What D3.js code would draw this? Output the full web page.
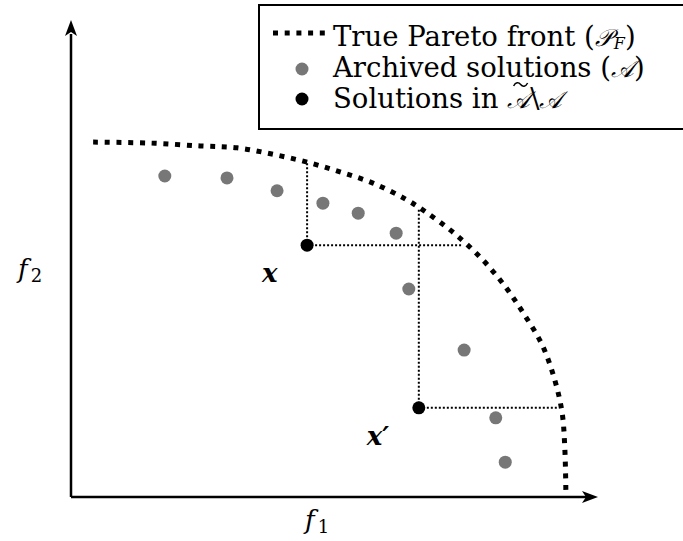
<!DOCTYPE html>
<html>
<head>
<meta charset="utf-8">
<script src="https://cdn.jsdelivr.net/npm/d3@7"></script>
<style>
  body { margin: 0; background: #fff; }
  text { font-family: 'DejaVu Serif', serif; fill: #000; }
</style>
</head>
<body>
<svg id="chart" width="683" height="541"></svg>
<script>
// true Pareto front (f1, f2)
const frontF1 = [0.42, 1.50, 2.45, 3.15, 3.81, 4.48, 5.12, 5.73, 6.34, 6.74, 7.27, 7.78, 8.22, 8.58, 8.94, 9.18, 9.32, 9.37, 9.39];
const frontF2 = [7.44, 7.42, 7.36, 7.32, 7.19, 7.02, 6.81, 6.58, 6.25, 5.97, 5.53, 5.01, 4.44, 3.86, 3.19, 2.45, 1.76, 1.03, 0.15];

// archived solutions
const archiveF1 = [1.78, 2.96, 3.91, 4.78, 5.45, 6.17, 6.41, 7.46, 8.06, 8.24];
const archiveF2 = [6.73, 6.69, 6.42, 6.16, 5.95, 5.53, 4.36, 3.08, 1.66, 0.73];

// new solutions and where their dotted guides hit the front
const solutionF1 = [4.48, 6.60];
const solutionF2 = [5.28, 1.87];
const hitF1 = [7.42, 9.24];
const hitF2 = [7.02, 6.02];
const solutionLabels = ['x', 'x′'];

const legendLabels = ['True Pareto front', 'Archived solutions', 'Solutions in'];

const svg = d3.select('#chart');
const g = svg.append('g');

const x = d3.scaleLinear().domain([0, 10]).range([71, 598]);
const y = d3.scaleLinear().domain([0, 10]).range([497, 20]);

// axes with arrow heads
g.append('path')
	.attr('d', `M${x(0)},${y(0)}H${x(10) - 12}M${x(0)},${y(0)}V${y(10) + 14}`)
	.attr('stroke', '#000')
	.attr('stroke-width', 2.5)
	.attr('fill', 'none');
g.append('path')
	.attr('d', `M${x(10)},${y(0)}l-16,-6l4,6l-4,6z`)
	.attr('fill', '#000');
g.append('path')
	.attr('d', `M${x(0)},${y(10)}l-6,16l6,-4l6,4z`)
	.attr('fill', '#000');

// axis labels
const f2Label = g.append('text').attr('x', 18).attr('y', 278).attr('font-size', 26);
f2Label.append('tspan').attr('font-style', 'italic').text('f');
f2Label.append('tspan').attr('font-size', 18).attr('dx', 3).attr('dy', 4).text('2');

const f1Label = g.append('text').attr('x', 305).attr('y', 529).attr('font-size', 26);
f1Label.append('tspan').attr('font-style', 'italic').text('f');
f1Label.append('tspan').attr('font-size', 18).attr('dx', 3).attr('dy', 4).text('1');

// dominance guides
const guides = g.append('g')
	.attr('stroke', '#000')
	.attr('stroke-width', 2)
	.attr('stroke-dasharray', '2 2')
	.attr('fill', 'none');
solutionF1.forEach((s, i) => {
	guides.append('path')
		.attr('d', `M${x(s)},${y(solutionF2[i])}V${y(hitF2[i])}`);
	guides.append('path')
		.attr('d', `M${x(s)},${y(solutionF2[i])}H${x(hitF1[i])}`);
});

// Pareto front
const front = frontF1.map((f, i) => [f, frontF2[i]]);
const line = d3.line()
	.x(d => x(d[0]))
	.y(d => y(d[1]))
	.curve(d3.curveCatmullRom);
g.append('path')
	.datum(front)
	.attr('d', line)
	.attr('fill', 'none')
	.attr('stroke', '#000')
	.attr('stroke-width', 5)
	.attr('stroke-dasharray', '5 6.7');

// archive
g.selectAll('circle.archive')
	.data(archiveF1)
	.join('circle')
	.attr('class', 'archive')
	.attr('cx', d => x(d))
	.attr('cy', (d, i) => y(archiveF2[i]))
	.attr('r', 6.5)
	.attr('fill', '#777');

// new solutions
g.selectAll('circle.solution')
	.data(solutionF1)
	.join('circle')
	.attr('class', 'solution')
	.attr('cx', d => x(d))
	.attr('cy', (d, i) => y(solutionF2[i]))
	.attr('r', 6.5)
	.attr('fill', '#000');

g.selectAll('text.sol')
	.data(solutionLabels)
	.join('text')
	.attr('class', 'sol')
	.attr('x', (d, i) => x(solutionF1[i]) - (i ? 52 : 45))
	.attr('y', (d, i) => y(solutionF2[i]) + 37)
	.attr('font-size', 26)
	.attr('font-style', 'italic')
	.attr('font-weight', 'bold')
	.text(d => d);

// legend
const legend = svg.append('g');
legend.append('rect')
	.attr('x', 259).attr('y', 5)
	.attr('width', 440).attr('height', 124)
	.attr('fill', '#fff')
	.attr('stroke', '#000')
	.attr('stroke-width', 2);
legend.append('path')
	.attr('d', 'M273,33H331')
	.attr('stroke', '#000')
	.attr('stroke-width', 5)
	.attr('stroke-dasharray', '5 6.7');
legend.append('circle').attr('cx', 302).attr('cy', 69).attr('r', 6.5).attr('fill', '#777');
legend.append('circle').attr('cx', 302).attr('cy', 99).attr('r', 6.5).attr('fill', '#000');

const scriptSize = 24;

const t0 = legend.append('text').attr('x', 333).attr('y', 46).attr('font-size', 27.5);
t0.append('tspan').text(legendLabels[0] + ' (');
t0.append('tspan').attr('font-style', 'italic').attr('font-size', scriptSize).text('𝒫');
t0.append('tspan').attr('font-size', 16).attr('font-style', 'italic').attr('dx', 2).attr('dy', 3).text('F');
t0.append('tspan').attr('dy', -3).text(')');

const t1 = legend.append('text').attr('x', 333).attr('y', 77).attr('font-size', 27.5);
t1.append('tspan').text(legendLabels[1] + ' (');
t1.append('tspan').attr('font-style', 'italic').attr('font-size', scriptSize).text('𝒜');
t1.append('tspan').text(')');

const t2 = legend.append('text').attr('x', 333).attr('y', 108).attr('font-size', 27.5);
t2.append('tspan').text(legendLabels[2] + ' ');
const tildeA = t2.append('tspan').attr('font-style', 'italic').attr('font-size', scriptSize).text('𝒜');
t2.append('tspan').text('\\');
t2.append('tspan').attr('font-style', 'italic').attr('font-size', scriptSize).text('𝒜');

// tilde accent over the first A, drawn as a small wave
const a0 = tildeA.node().getStartPositionOfChar(0).x;
const a1 = tildeA.node().getEndPositionOfChar(0).x;
const tx = (a0 + a1) / 2 + 2;
legend.append('path')
	.attr('d', `M${tx - 7},${86}c2,-4 5,-4 7,-1.5s5,2.5 7,-1.5`)
	.attr('fill', 'none')
	.attr('stroke', '#000')
	.attr('stroke-width', 1.5);
</script>
</body>
</html>
